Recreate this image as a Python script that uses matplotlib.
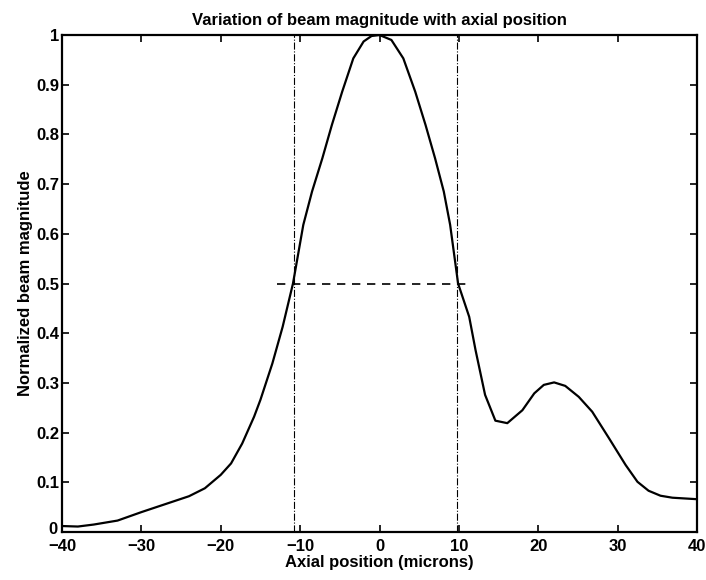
import matplotlib
matplotlib.use("Agg")
import matplotlib.pyplot as plt
import matplotlib.transforms as mtransforms

# Beam profile data (axial position in microns, normalized magnitude)
pos = [-40, -38, -36, -33, -30, -27, -24, -22, -20, -18.7, -17.3, -15.8, -15,
       -13.5, -12.2, -10.9, -9.6, -8.5, -7.2, -6, -4.7, -3.3, -2, -1, 0,
       1.5, 3, 4.5, 5.8, 7, 8.1, 8.9, 9.9, 11.3, 12.1, 13.3, 14.6, 16.1, 18,
       19.5, 20.7, 22, 23.4, 25.1, 26.8, 28.9, 31, 32.5, 33.9, 35.4, 36.9, 40]
mag = [0.012, 0.011, 0.015, 0.023, 0.040, 0.056, 0.072, 0.088, 0.115, 0.138,
       0.178, 0.232, 0.266, 0.339, 0.413, 0.50, 0.618, 0.685, 0.752, 0.819,
       0.886, 0.953, 0.987, 0.998, 1.0, 0.99, 0.953, 0.886, 0.819, 0.752,
       0.685, 0.618, 0.50, 0.433, 0.366, 0.276, 0.224, 0.219, 0.245, 0.279,
       0.296, 0.301, 0.294, 0.272, 0.242, 0.189, 0.135, 0.101, 0.083, 0.073,
       0.069, 0.066]

half_level = 0.5
half_x = [-12.9, 11.3]
fwhm_left = -10.8
fwhm_right = 9.8

xticks = [-40, -30, -20, -10, 0, 10, 20, 30, 40]
yticks = [0, 0.1, 0.2, 0.3, 0.4, 0.5, 0.6, 0.7, 0.8, 0.9, 1]
yticklabels = ["0", "0.1", "0.2", "0.3", "0.4", "0.5", "0.6", "0.7", "0.8", "0.9", "1"]

plt.rcParams['font.family'] = ['Liberation Sans', 'DejaVu Sans']
plt.rcParams['font.weight'] = 'bold'

fig = plt.figure(figsize=(7.06, 5.8), dpi=100)
ax = fig.add_axes([62/706, 1 - 532/580, (697 - 62)/706, (532 - 35)/580])

ax.plot(pos, mag, color='black', linewidth=1.6)
ax.plot(half_x, [half_level, half_level], color='black', linestyle=(0, (5, 4)), linewidth=1.2)
ax.plot([fwhm_left, fwhm_left], [0, 1], color='black', linestyle='-.', linewidth=0.8)
ax.plot([fwhm_right, fwhm_right], [0, 1], color='black', linestyle='-.', linewidth=0.8)

ax.set_xlim(-40, 40)
ax.set_ylim(0, 1)
ax.set_xticks(xticks)
ax.set_xticklabels([str(t).replace('-', '\u2212') for t in xticks])
ax.set_yticks(yticks)
ax.set_yticklabels(yticklabels)
ax.tick_params(direction='in', top=True, right=True, length=5, width=1.2,
               labelsize=12)
ax.tick_params(axis='x', pad=5)
ax.tick_params(axis='y', pad=2)
for lbl in ax.get_xticklabels() + ax.get_yticklabels():
    lbl.set_fontweight('bold')
# lift the y "0" label slightly so it sits above the "-40" label, as in the reference
zero_lbl = ax.get_yticklabels()[0]
zero_lbl.set_transform(zero_lbl.get_transform() +
                       mtransforms.ScaledTranslation(-2/100, 4/100, fig.dpi_scale_trans))
for s in ax.spines.values():
    s.set_linewidth(1.6)

ax.set_title("Variation of beam magnitude with axial position", fontsize=12,
             fontweight='bold', pad=7)
ax.set_xlabel("Axial position (microns)", fontsize=12, fontweight='bold', labelpad=0.5)
ax.set_ylabel("Normalized beam magnitude", fontsize=12, fontweight='bold', labelpad=2)

fig.savefig("out.png", dpi=100)
